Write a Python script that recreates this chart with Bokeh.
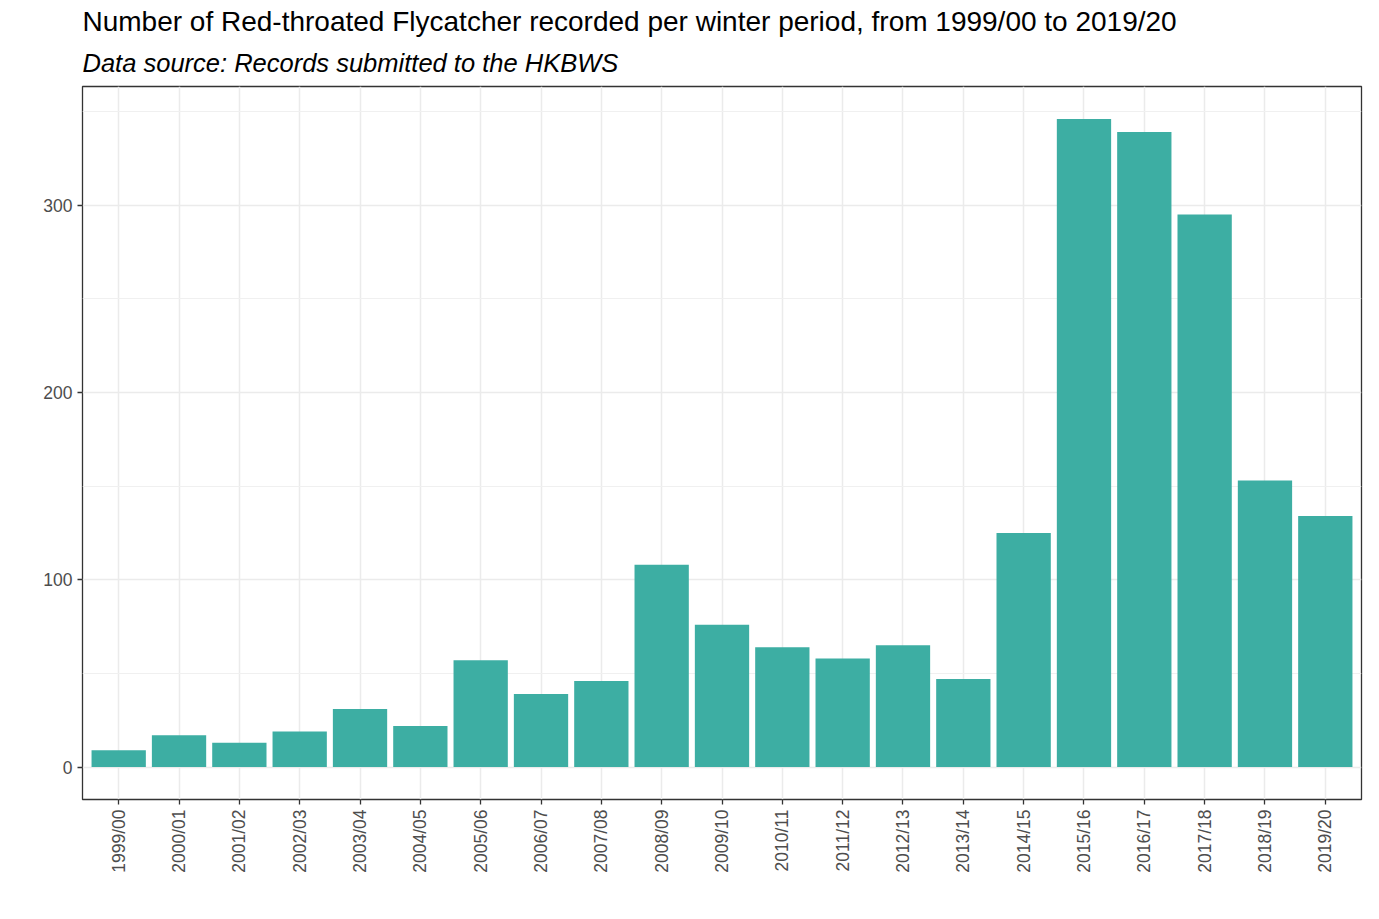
from bokeh.plotting import figure
from bokeh.models import Range1d, FixedTicker, Title
from bokeh.embed import file_html
from bokeh.resources import INLINE
from math import pi

seasons = ["1999/00", "2000/01", "2001/02", "2002/03", "2003/04", "2004/05", "2005/06",
           "2006/07", "2007/08", "2008/09", "2009/10", "2010/11", "2011/12", "2012/13",
           "2013/14", "2014/15", "2015/16", "2016/17", "2017/18", "2018/19", "2019/20"]
counts = [9, 17, 13, 19, 31, 22, 57, 39, 46, 108, 76, 64, 58, 65, 47, 125, 346, 339, 295, 153, 134]
y_ticks = [0, 100, 200, 300]
y_minor = [50, 150, 250, 350]

title_text = "Number of Red-throated Flycatcher recorded per winter period, from 1999/00 to 2019/20"
subtitle_text = "Data source: Records submitted to the HKBWS"

FONT = "Liberation Sans"
positions = list(range(1, len(seasons) + 1))
ymax = max(counts)
pad = ymax * 0.05

p = figure(width=1363, height=903, output_backend="svg", toolbar_location=None,
           x_range=Range1d(0.4, len(seasons) + 0.6), y_range=Range1d(-pad, ymax + pad),
           min_border_left=82, min_border_right=2, min_border_top=86, min_border_bottom=104)

p.add_layout(Title(text=subtitle_text, text_font=FONT, text_font_size="25.5px",
                   text_font_style="italic", text_color="black", align="left",
                   standoff=20), "above")
p.add_layout(Title(text=title_text, text_font=FONT, text_font_size="28px",
                   text_font_style="normal", text_color="black", align="left",
                   standoff=0), "above")

p.vbar(x=positions, top=counts, bottom=0, width=0.9, fill_color="#3DAEA3", line_color=None)

p.background_fill_color = "white"
p.border_fill_color = "white"
p.outline_line_color = "#333333"
p.outline_line_width = 1.3

p.xaxis.ticker = FixedTicker(ticks=positions)
p.xaxis.major_label_overrides = {i: s for i, s in zip(positions, seasons)}
p.xaxis.major_label_orientation = pi / 2
p.yaxis.ticker = FixedTicker(ticks=y_ticks, minor_ticks=y_minor)

for ax in (p.xaxis, p.yaxis):
    ax.axis_line_color = None
    ax.major_tick_line_color = "#333333"
    ax.major_tick_line_width = 1.3
    ax.major_tick_out = 5
    ax.major_tick_in = 0
    ax.minor_tick_line_color = None
    ax.major_label_text_font = FONT
    ax.major_label_text_font_size = "17.5px"
    ax.major_label_text_color = "#4D4D4D"
    ax.major_label_standoff = 5

p.xgrid.grid_line_color = "#EBEBEB"
p.xgrid.grid_line_width = 1.5
p.ygrid.grid_line_color = "#EBEBEB"
p.ygrid.grid_line_width = 1.5
p.ygrid.minor_grid_line_color = "#F0F0F0"
p.ygrid.minor_grid_line_width = 1.0

open("out.html", "w").write(file_html(p, INLINE))
